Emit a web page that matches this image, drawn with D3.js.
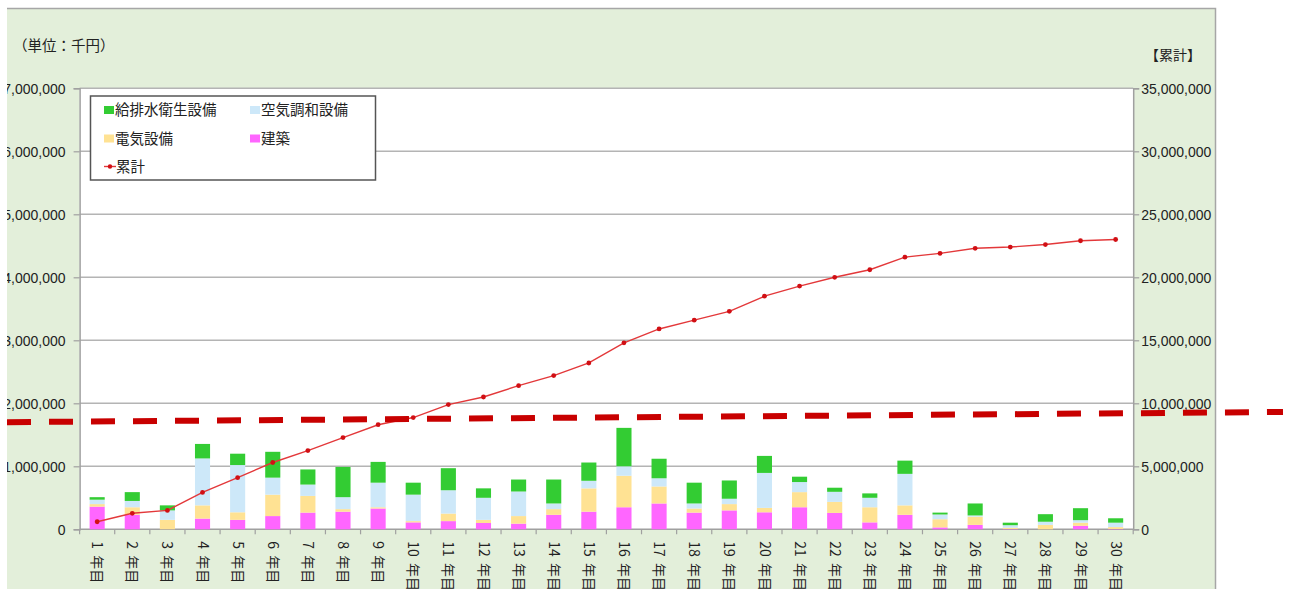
<!DOCTYPE html>
<html>
<head>
<meta charset="utf-8">
<title>年度別 更新費用</title>
<script src="https://cdnjs.cloudflare.com/ajax/libs/d3/7.8.5/d3.min.js"></script>
<style>
  body { margin: 0; background: #fff; }
  text { font-family: "Liberation Sans", "Noto Sans CJK JP", sans-serif; fill: #222; }
  .jp { font-family: "Noto Sans CJK JP", sans-serif; }
</style>
</head>
<body>
<script>
// categories
const years = ["1 年目","2 年目","3 年目","4 年目","5 年目","6 年目","7 年目","8 年目","9 年目","10 年目",
  "11 年目","12 年目","13 年目","14 年目","15 年目","16 年目","17 年目","18 年目","19 年目","20 年目",
  "21 年目","22 年目","23 年目","24 年目","25 年目","26 年目","27 年目","28 年目","29 年目","30 年目"];

// series values (千円)
const kenchiku = [360000,230000,0,170000,150000,210000,265000,280000,330000,110000,
  130000,100000,90000,230000,280000,350000,410000,265000,300000,270000,
  350000,260000,110000,230000,30000,70000,5000,0,55000,5000];
const denki = [40000,120000,150000,210000,120000,340000,265000,40000,20000,20000,
  120000,50000,120000,90000,370000,500000,270000,65000,100000,70000,
  240000,175000,240000,150000,130000,130000,20000,70000,50000,30000];
const kuchou = [70000,100000,150000,745000,750000,270000,180000,190000,390000,420000,
  370000,350000,390000,90000,120000,150000,130000,80000,85000,555000,
  160000,160000,150000,500000,75000,20000,40000,50000,40000,70000];
const kyuhaisui = [40000,140000,80000,230000,180000,410000,240000,480000,330000,190000,
  350000,150000,190000,380000,290000,610000,310000,330000,290000,270000,
  85000,65000,70000,210000,30000,190000,40000,120000,190000,70000];
const ruikei = [600000,1270000,1500000,2930000,4100000,5300000,6250000,7280000,8300000,8870000,
  9900000,10500000,11400000,12200000,13200000,14800000,15900000,16600000,17300000,18500000,
  19300000,20000000,20600000,21600000,21900000,22300000,22400000,22600000,22900000,23000000];

// tick values
const leftTicks = [0,1000000,2000000,3000000,4000000,5000000,6000000,7000000];
const rightTicks = [0,5000000,10000000,15000000,20000000,25000000,30000000,35000000];

// hand-drawn dashed annotation, in left-axis units (start, end)
const markLine = [1700000, 1862000];

const W = 1293, H = 589;
const m = {left: 79.6, right: 1133.2, top: 88.3, bottom: 529.3};

const series = [
  {key: "kenchiku", name: "建築", color: "#ff66ff", values: kenchiku},
  {key: "denki", name: "電気設備", color: "#ffe293", values: denki},
  {key: "kuchou", name: "空気調和設備", color: "#cde8f9", values: kuchou},
  {key: "kyuhaisui", name: "給排水衛生設備", color: "#33cc33", values: kyuhaisui}
];

const table = years.map((y, i) => {
  const row = {year: y};
  series.forEach(s => row[s.key] = s.values[i]);
  return row;
});

const svg = d3.select("body").append("svg")
  .attr("width", W).attr("height", H);

// panel
svg.append("rect").attr("x", 7).attr("y", 8).attr("width", 1208).attr("height", H)
  .attr("fill", "#e3efda");
svg.append("path").attr("d", "M7,8.5H1215.5V" + H)
  .attr("fill", "none").attr("stroke", "#a6a6a6").attr("stroke-width", 1.5);

const x = d3.scaleBand().domain(years).range([m.left, m.right])
  .paddingInner(0.57).paddingOuter(0.285);
const yL = d3.scaleLinear().domain([0, 7000000]).range([m.bottom, m.top]);
const yR = d3.scaleLinear().domain([0, 35000000]).range([m.bottom, m.top]);

// plot area
svg.append("rect").attr("x", m.left).attr("y", m.top)
  .attr("width", m.right - m.left).attr("height", m.bottom - m.top).attr("fill", "#fff");

// grid
svg.append("g").selectAll("line").data(leftTicks.slice(1)).join("line")
  .attr("x1", m.left).attr("x2", m.right)
  .attr("y1", d => yL(d)).attr("y2", d => yL(d))
  .attr("stroke", "#b4b4b4").attr("stroke-width", 1.6);

// left axis
const gL = svg.append("g").attr("transform", `translate(${m.left},0)`)
  .call(d3.axisLeft(yL).tickValues(leftTicks).tickFormat(d3.format(",")).tickSize(6).tickPadding(8));
gL.selectAll("text").style("font-size", "14px").attr("dy", "0.36em");

// right axis
const gR = svg.append("g").attr("transform", `translate(${m.right},0)`)
  .call(d3.axisRight(yR).tickValues(rightTicks).tickFormat(d3.format(",")).tickSize(6).tickPadding(2));
gR.selectAll("text").style("font-size", "14px").attr("dy", "0.36em");

[gL, gR].forEach(g => {
  g.select(".domain").attr("stroke", "#a0a0a0").attr("stroke-width", 1.5);
  g.selectAll(".tick line").attr("stroke", "#a0a0a0").attr("stroke-width", 1.2);
});

// bottom axis
svg.append("line").attr("x1", m.left).attr("x2", m.right)
  .attr("y1", m.bottom).attr("y2", m.bottom)
  .attr("stroke", "#a0a0a0").attr("stroke-width", 1.5);
const bounds = years.map(y => x(y) - x.step() * x.paddingInner() / 2);
bounds.push(m.right);
svg.append("g").selectAll("line").data(bounds).join("line")
  .attr("x1", d => d).attr("x2", d => d)
  .attr("y1", m.bottom).attr("y2", m.bottom + 5)
  .attr("stroke", "#a0a0a0").attr("stroke-width", 1.2);

svg.append("g").selectAll("text").data(years).join("text")
  .attr("class", "jp")
  .attr("transform", d => `translate(${x(d) + x.bandwidth() / 2},${m.bottom + 12}) rotate(90)`)
  .attr("dy", "0.35em")
  .style("font-size", "14px")
  .style("word-spacing", "3px")
  .text(d => d);

// stacked bars
const stacked = d3.stack().keys(series.map(s => s.key))(table);
svg.append("g").selectAll("g").data(stacked).join("g")
  .attr("fill", (d, i) => series[i].color)
  .selectAll("rect").data(d => d).join("rect")
  .attr("x", d => x(d.data.year))
  .attr("width", x.bandwidth())
  .attr("y", d => yL(d[1]))
  .attr("height", d => yL(d[0]) - yL(d[1]));

// cumulative line
const line = d3.line().x((d, i) => x(years[i]) + x.bandwidth() / 2).y(d => yR(d));
svg.append("path").datum(ruikei).attr("d", line)
  .attr("fill", "none").attr("stroke", "#e3383a").attr("stroke-width", 1.4);
svg.append("g").selectAll("circle").data(ruikei).join("circle")
  .attr("cx", (d, i) => x(years[i]) + x.bandwidth() / 2)
  .attr("cy", d => yR(d)).attr("r", 2.4).attr("fill", "#d10f14");

// cover for left labels outside the panel
svg.append("rect").attr("x", 0).attr("y", 0).attr("width", 7).attr("height", H).attr("fill", "#fff");

// dashed annotation line
svg.append("line")
  .attr("x1", 7).attr("x2", 1283)
  .attr("y1", yL(markLine[0])).attr("y2", yL(markLine[1]))
  .attr("stroke", "#c80000").attr("stroke-width", 6)
  .attr("stroke-dasharray", "24,18");

// titles
svg.append("text").attr("class", "jp").attr("x", 13).attr("y", 46).attr("dy", "0.35em")
  .style("font-size", "14.5px").text("（単位：千円）");
svg.append("text").attr("class", "jp").attr("x", 1145).attr("y", 55).attr("dy", "0.35em")
  .style("font-size", "14px").text("【累計】");

// legend
const lg = svg.append("g");
lg.append("rect").attr("x", 90.5).attr("y", 96).attr("width", 285).attr("height", 84)
  .attr("fill", "#fff").attr("stroke", "#555").attr("stroke-width", 1.5);
const legendItems = [
  {name: "給排水衛生設備", color: "#33cc33", col: 0, row: 0},
  {name: "空気調和設備", color: "#cde8f9", col: 1, row: 0},
  {name: "電気設備", color: "#ffe293", col: 0, row: 1},
  {name: "建築", color: "#ff66ff", col: 1, row: 1}
];
const colX = [104, 250], rowY = [110, 138.5, 166.5];
legendItems.forEach(it => {
  lg.append("rect").attr("x", colX[it.col]).attr("y", rowY[it.row] - 4)
    .attr("width", 10).attr("height", 8).attr("fill", it.color);
  lg.append("text").attr("class", "jp").attr("x", colX[it.col] + 11).attr("y", rowY[it.row])
    .attr("dy", "0.35em").style("font-size", "14.5px").text(it.name);
});
lg.append("line").attr("x1", 104).attr("x2", 116).attr("y1", rowY[2]).attr("y2", rowY[2])
  .attr("stroke", "#e3383a").attr("stroke-width", 1.4);
lg.append("circle").attr("cx", 110).attr("cy", rowY[2]).attr("r", 2.2).attr("fill", "#d10f14");
lg.append("text").attr("class", "jp").attr("x", 116).attr("y", rowY[2])
  .attr("dy", "0.35em").style("font-size", "14.5px").text("累計");
</script>
</body>
</html>
